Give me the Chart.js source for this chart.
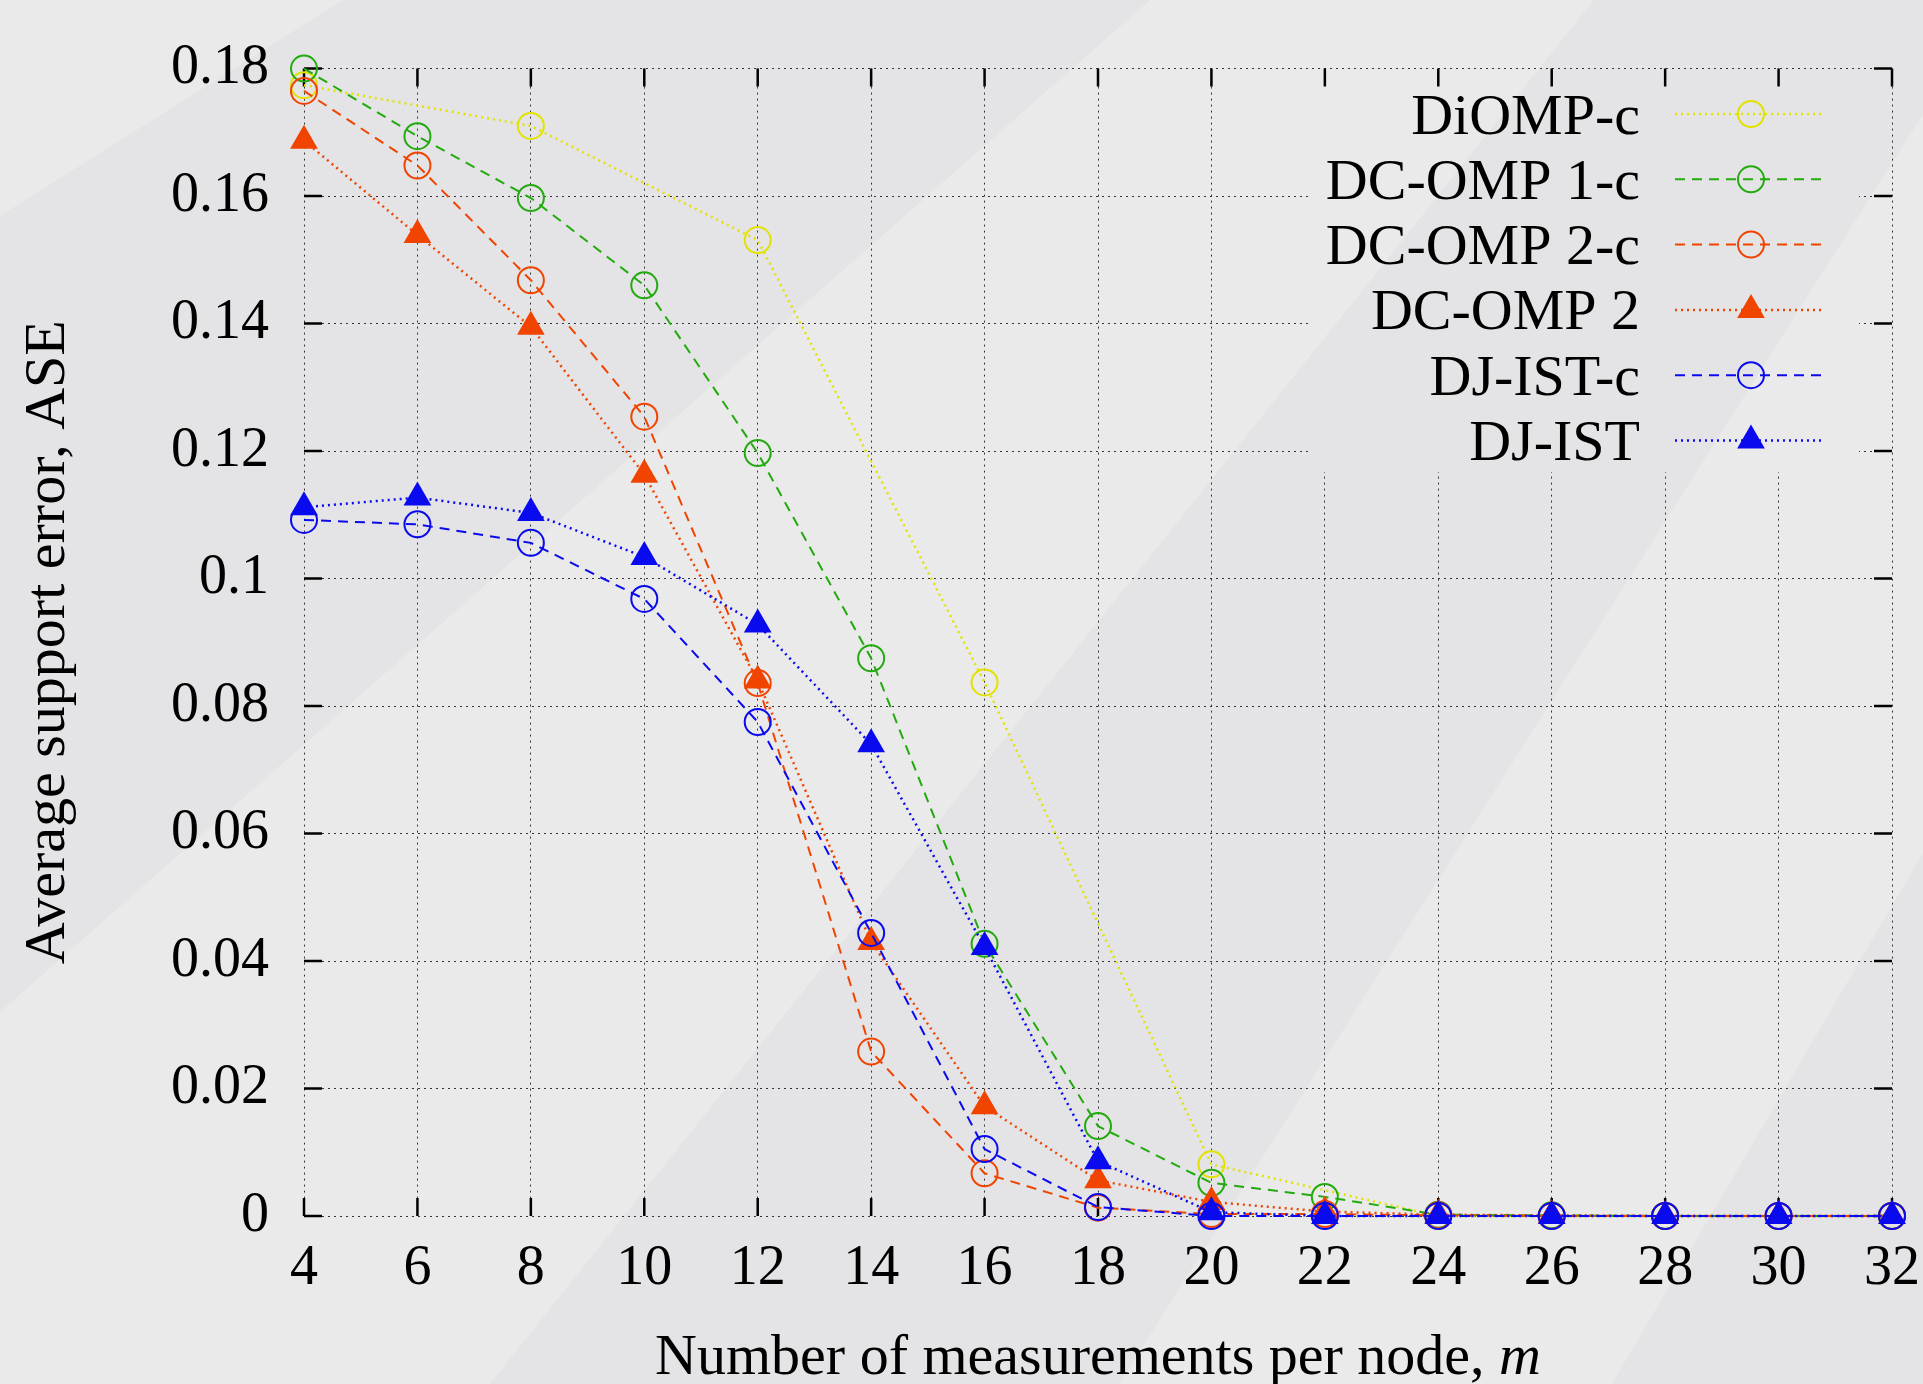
<!DOCTYPE html>
<html>
<head>
<meta charset="utf-8">
<script src="https://cdn.jsdelivr.net/npm/chart.js@4/dist/chart.umd.min.js"></script>
<style>
  body { margin: 0; background: #e4e4e6; }
  #wrap { width: 1923px; height: 1384px; position: relative; }
</style>
</head>
<body>
<div id="wrap"><canvas id="chart1"></canvas></div>
<script>
// data
let mValues = [4, 6, 8, 10, 12, 14, 16, 18, 20, 22, 24, 26, 28, 30, 32]
let diompX = [4, 8, 12, 16, 20, 24, 28, 32]
let diompC = [0.1774, 0.171, 0.1531, 0.0837, 0.0081, 0, 0, 0]
let dcomp1c = [0.18, 0.1694, 0.1597, 0.146, 0.1197, 0.0875, 0.0427, 0.0141, 0.0052, 0.003, 0.0002, 0.0001, 0, 0, 0]
let dcomp2c = [0.1765, 0.1648, 0.1468, 0.1254, 0.0836, 0.0258, 0.0067, 0.0013, 0.0003, 0.0003, 0.0001, 0, 0, 0, 0]
let dcomp2 = [0.1687, 0.1539, 0.1395, 0.1163, 0.084, 0.043, 0.0172, 0.0056, 0.0022, 0.0007, 0.0002, 0.0001, 0, 0, 0]
let djistC = [0.1092, 0.1085, 0.1056, 0.0968, 0.0775, 0.0444, 0.0105, 0.0014, 0, 0, 0, 0, 0, 0, 0]
let djist = [0.1112, 0.1127, 0.1103, 0.1034, 0.0928, 0.074, 0.0422, 0.0086, 0.0006, 0, 0, 0, 0, 0, 0]

let seriesNames = ['DiOMP-c', 'DC-OMP 1-c', 'DC-OMP 2-c', 'DC-OMP 2', 'DJ-IST-c', 'DJ-IST']
let xTickLabels = ['4', '6', '8', '10', '12', '14', '16', '18', '20', '22', '24', '26', '28', '30', '32']
let yTickLabels = ['0', '0.02', '0.04', '0.06', '0.08', '0.1', '0.12', '0.14', '0.16', '0.18']

let yellow = '#e2e200'
let green = '#22aa0e'
let orange = '#f04400'
let blue = '#0a0aee'
let dotted = [2, 4]
let dashed = [10, 7]
let serif = '"Liberation Serif", "Times New Roman", serif'

function pts(xs, ys) {
    let out = []
    for (var i = 0; i < xs.length; i++) {
        out.push({x: xs[i], y: ys[i]})
    }
    return out
}

function makeSet(name, xs, ys, color, dash, style, idx) {
    let tri = style === 'triangle'
    return {
        label: name,
        data: pts(xs, ys),
        borderColor: color,
        backgroundColor: color,
        borderWidth: dash === dotted ? 2.5 : 2,
        borderDash: dash,
        pointStyle: style,
        pointRadius: tri ? 14 : 13,
        pointHoverRadius: tri ? 14 : 13,
        pointBorderWidth: 2,
        pointBorderColor: color,
        pointBackgroundColor: tri ? color : 'rgba(0,0,0,0)',
        tension: 0,
        fill: false,
        clip: false,
        order: 5 - idx
    }
}

// background with the soft diagonal bands
function paintBg(ctx, w, h) {
    ctx.fillStyle = '#e4e4e6'
    ctx.fillRect(0, 0, w, h)
    ctx.fillStyle = '#eaeaea'
    ctx.beginPath()
    ctx.moveTo(0, 0); ctx.lineTo(343, 0); ctx.lineTo(0, 216)
    ctx.closePath(); ctx.fill()
    ctx.beginPath()
    ctx.moveTo(0, 1012); ctx.lineTo(1150, 0); ctx.lineTo(1594, 0); ctx.lineTo(490, 1384); ctx.lineTo(0, 1384)
    ctx.closePath(); ctx.fill()
    ctx.beginPath()
    ctx.moveTo(1119, 1384); ctx.lineTo(1923, 114); ctx.lineTo(1923, 1384)
    ctx.closePath(); ctx.fill()
    ctx.fillStyle = '#e4e4e6'
    ctx.beginPath()
    ctx.moveTo(1612, 1384); ctx.lineTo(1923, 853); ctx.lineTo(1923, 1384)
    ctx.closePath(); ctx.fill()
}

function drawMarker(ctx, ds, x, y) {
    ctx.save()
    ctx.setLineDash([])
    ctx.lineWidth = ds.pointBorderWidth
    ctx.strokeStyle = ds.pointBorderColor
    ctx.fillStyle = ds.pointBackgroundColor
    let r = ds.pointRadius
    ctx.beginPath()
    if (ds.pointStyle === 'triangle') {
        ctx.moveTo(x, y - r)
        ctx.lineTo(x + Math.sin(2 * Math.PI / 3) * r, y + r / 2)
        ctx.lineTo(x - Math.sin(2 * Math.PI / 3) * r, y + r / 2)
        ctx.closePath()
        ctx.fill()
    } else {
        ctx.arc(x, y, r, 0, 2 * Math.PI)
    }
    ctx.stroke()
    ctx.restore()
}

let bgPlugin = {
    id: 'bg',
    beforeDraw(chart) {
        paintBg(chart.ctx, chart.width, chart.height)
    },
    beforeDatasetsDraw(chart) {
        let ctx = chart.ctx
        let area = chart.chartArea
        let xs = chart.scales.x
        let ys = chart.scales.y

        // key box hides the grid behind it
        ctx.save()
        ctx.beginPath()
        ctx.rect(1310, 84, 549, 388)
        ctx.clip()
        paintBg(ctx, chart.width, chart.height)
        ctx.restore()

        // inward ticks on all four sides
        ctx.save()
        ctx.strokeStyle = '#000'
        ctx.lineWidth = 2.5
        ctx.setLineDash([])
        ctx.beginPath()
        xs.ticks.forEach(function (t) {
            let px = xs.getPixelForValue(t.value)
            ctx.moveTo(px, area.bottom); ctx.lineTo(px, area.bottom - 18)
            ctx.moveTo(px, area.top); ctx.lineTo(px, area.top + 18)
        })
        ys.ticks.forEach(function (t) {
            let py = ys.getPixelForValue(t.value)
            ctx.moveTo(area.left, py); ctx.lineTo(area.left + 18, py)
            ctx.moveTo(area.right, py); ctx.lineTo(area.right - 18, py)
        })
        ctx.stroke()
        ctx.restore()

        // key
        ctx.save()
        ctx.font = '58px ' + serif
        ctx.fillStyle = '#000'
        ctx.textAlign = 'right'
        ctx.textBaseline = 'alphabetic'
        chart.data.datasets.forEach(function (ds, i) {
            let rowY = 114 + i * 65.3
            ctx.fillText(ds.label, 1640, rowY + 19.5)
            ctx.save()
            ctx.strokeStyle = ds.borderColor
            ctx.lineWidth = ds.borderWidth
            ctx.setLineDash(ds.borderDash)
            ctx.beginPath()
            ctx.moveTo(1675, rowY)
            ctx.lineTo(1825, rowY)
            ctx.stroke()
            ctx.restore()
            drawMarker(ctx, ds, 1751, rowY)
        })
        ctx.restore()
    },
    afterDraw(chart) {
        // x title with italic m
        let ctx = chart.ctx
        let area = chart.chartArea
        ctx.save()
        ctx.fillStyle = '#000'
        ctx.textBaseline = 'alphabetic'
        ctx.textAlign = 'left'
        let part1 = 'Number of measurements per node, '
        let part2 = 'm'
        ctx.font = '58px ' + serif
        let w1 = ctx.measureText(part1).width
        ctx.font = 'italic 58px ' + serif
        let w2 = ctx.measureText(part2).width
        let x0 = (area.left + area.right) / 2 - (w1 + w2) / 2
        ctx.font = '58px ' + serif
        ctx.fillText(part1, x0, 1374)
        ctx.font = 'italic 58px ' + serif
        ctx.fillText(part2, x0 + w1, 1374)
        ctx.restore()
    }
}

let chart1 = document.getElementById('chart1').getContext('2d')

let aseChart = new Chart(chart1, {
    type: 'line',
    data: {
        datasets: [
            makeSet(seriesNames[0], diompX, diompC, yellow, dotted, 'circle', 0),
            makeSet(seriesNames[1], mValues, dcomp1c, green, dashed, 'circle', 1),
            makeSet(seriesNames[2], mValues, dcomp2c, orange, dashed, 'circle', 2),
            makeSet(seriesNames[3], mValues, dcomp2, orange, dotted, 'triangle', 3),
            makeSet(seriesNames[4], mValues, djistC, blue, dashed, 'circle', 4),
            makeSet(seriesNames[5], mValues, djist, blue, dotted, 'triangle', 5),
        ]
    },
    options: {
        responsive: true,
        maintainAspectRatio: false,
        animation: false,
        events: [],
        layout: { padding: { top: 64, right: 31, left: 0, bottom: 0 } },
        plugins: {
            legend: { display: false },
            tooltip: { enabled: false },
        },
        scales: {
            x: {
                type: 'linear',
                min: 4,
                max: 32,
                afterFit: function (scale) {
                    scale.height = 168
                    scale.paddingLeft = 0
                    scale.paddingRight = 0
                },
                afterBuildTicks: function (scale) {
                    scale.ticks = mValues.map(function (v) { return {value: v} })
                },
                ticks: {
                    stepSize: 2,
                    padding: 20,
                    color: '#000',
                    font: { family: serif, size: 56 },
                    maxRotation: 0,
                    autoSkip: false,
                    callback: function (value, index) { return xTickLabels[index] }
                },
                grid: { color: '#333333', lineWidth: 1, drawTicks: false },
                border: { display: false, dash: [2, 4] },
                title: { display: false }
            },
            y: {
                type: 'linear',
                min: 0,
                max: 0.18,
                afterFit: function (scale) { scale.width = 304 },
                afterBuildTicks: function (scale) {
                    scale.ticks = yTickLabels.map(function (s) { return {value: parseFloat(s)} })
                },
                ticks: {
                    stepSize: 0.02,
                    padding: 35,
                    color: '#000',
                    font: { family: serif, size: 56 },
                    autoSkip: false,
                    callback: function (value, index) { return yTickLabels[index] }
                },
                grid: { color: '#333333', lineWidth: 1, drawTicks: false },
                border: { display: false, dash: [2, 4] },
                title: {
                    display: true,
                    text: 'Average support error, ASE',
                    color: '#000',
                    font: { family: serif, size: 58, lineHeight: 1 },
                    padding: { top: 20, bottom: 0 }
                }
            }
        }
    },
    plugins: [bgPlugin]
});
</script>
</body>
</html>
